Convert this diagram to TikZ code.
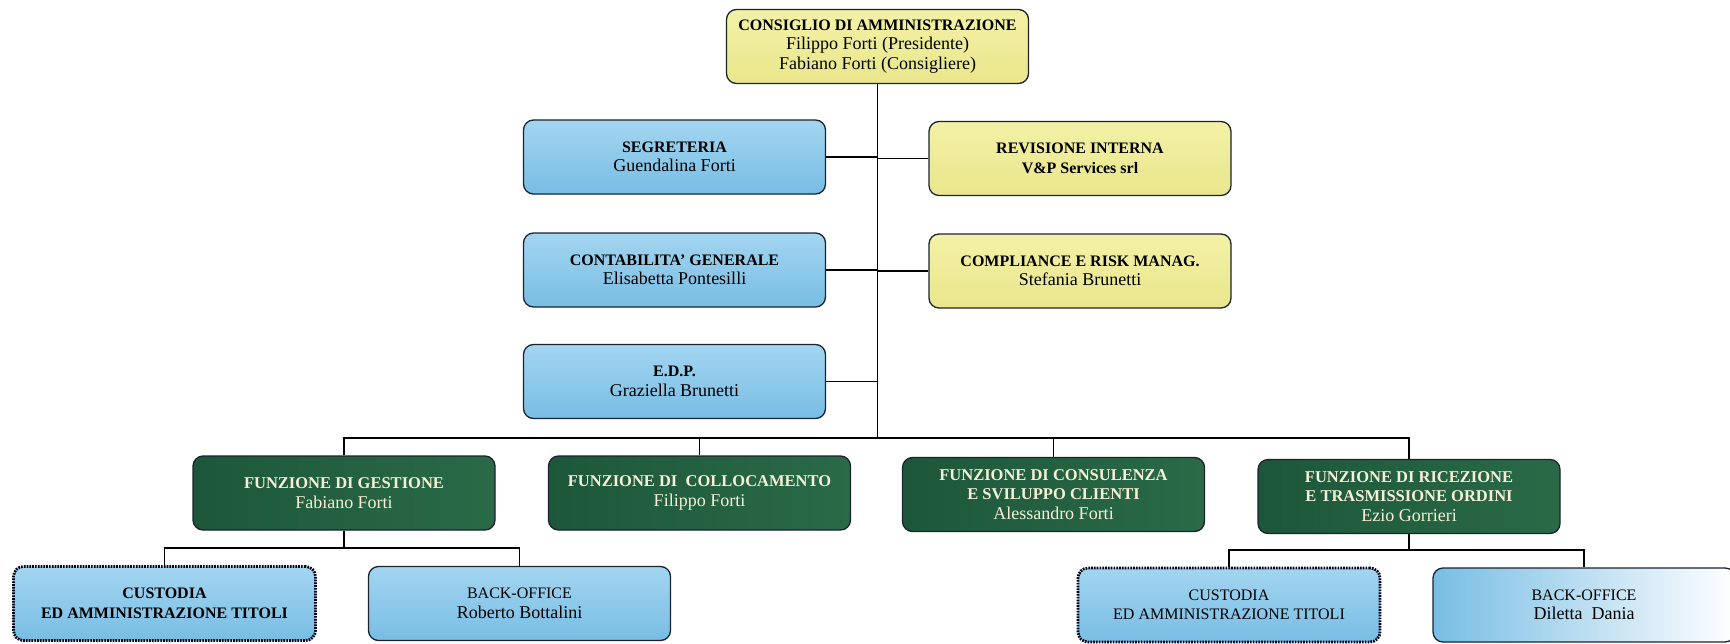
\documentclass[tikz,border=0pt]{standalone}
\usepackage{fontspec}
\setmainfont{Liberation Serif}
\definecolor{blueT}{HTML}{A3D5F0}
\definecolor{blueB}{HTML}{78BDE4}
\definecolor{yelT}{HTML}{F3F1A6}
\definecolor{yelB}{HTML}{E9E68C}
\definecolor{grnL}{HTML}{1D573B}
\definecolor{grnR}{HTML}{2A6A47}
\definecolor{grntext}{HTML}{F6F1D6}
\definecolor{edge}{HTML}{1C2230}
\newcommand\nm[1]{{\fontsize{18}{19.5}\selectfont #1}}
\begin{document}
\begin{tikzpicture}[x=1pt,y=-1pt,
  box/.style={draw=edge, line width=1.3pt, rounded corners=10pt,
    minimum width=302pt, minimum height=74pt, inner sep=2pt, align=center,
    font=\fontsize{16}{19.5}\selectfont},
  bluebox/.style={box, top color=blueT, bottom color=blueB},
  yelbox/.style={box, top color=yelT, bottom color=yelB},
  greenbox/.style={box, left color=grnL, right color=grnR, text=grntext,
    font=\fontsize{16.5}{19.5}\selectfont},
  dotbox/.style={bluebox, draw=black!90!blue, dash pattern=on 1.7pt off 1.1pt, line width=2.8pt},
  fadebox/.style={box, left color=blueB, right color=white},
  conn/.style={draw=black, line width=1.2pt}]
\useasboundingbox (0,0) rectangle (1730,643);
\fill[white] (0,0) rectangle (1730,643);

\node[yelbox] (cda) at (877.5,46.5) {\textbf{CONSIGLIO DI AMMINISTRAZIONE}\\ \nm{Filippo Forti (Presidente)}\\ \nm{Fabiano Forti (Consigliere)}};
\node[bluebox] (seg) at (674.5,157) {\textbf{SEGRETERIA}\\ \nm{Guendalina Forti}};
\node[yelbox] (rev) at (1080,158.5) {\textbf{REVISIONE INTERNA}\\ \textbf{V\&P Services srl}};
\node[bluebox] (cont) at (674.5,270) {\textbf{CONTABILITA' GENERALE}\\ \nm{Elisabetta Pontesilli}};
\node[yelbox] (comp) at (1080,271) {\textbf{COMPLIANCE E RISK MANAG.}\\ \nm{Stefania Brunetti}};
\node[bluebox] (edp) at (674.5,381.5) {\textbf{E.D.P.}\\ \nm{Graziella Brunetti}};

\node[greenbox] (gest) at (344,493) {\textbf{FUNZIONE DI GESTIONE}\\ \nm{Fabiano Forti}};
\node[greenbox] (coll) at (699.5,493) {\textbf{FUNZIONE DI\ \ COLLOCAMENTO}\\ \nm{Filippo Forti}};
\node[greenbox] (cons) at (1053.5,494.5) {\textbf{FUNZIONE DI CONSULENZA}\\ \textbf{E SVILUPPO CLIENTI}\\ \nm{Alessandro Forti}};
\node[greenbox] (ric) at (1409,496.5) {\textbf{FUNZIONE DI RICEZIONE}\\ \textbf{E TRASMISSIONE ORDINI}\\ \nm{Ezio Gorrieri}};

\node[dotbox] (custL) at (164.5,603.5) {\textbf{CUSTODIA}\\ \textbf{ED AMMINISTRAZIONE TITOLI}};
\node[bluebox] (boL) at (519.5,603.5) {BACK-OFFICE\\ \nm{Roberto Bottalini}};
\node[dotbox] (custR) at (1229,605) {CUSTODIA\\ ED AMMINISTRAZIONE TITOLI};
\node[fadebox] (boR) at (1584,605) {BACK-OFFICE\\ \nm{Diletta\ \ Dania}};

\coordinate (bus) at (0,438);
\coordinate (subL) at (0,548);
\coordinate (subR) at (0,550);

\draw[conn] (cda.south) -- (cda.south |- bus);
\draw[conn] (seg.east) -- (seg.east -| cda.south);
\draw[conn] (rev.west) -- (rev.west -| cda.south);
\draw[conn] (cont.east) -- (cont.east -| cda.south);
\draw[conn] (comp.west) -- (comp.west -| cda.south);
\draw[conn] (edp.east) -- (edp.east -| cda.south);

\draw[conn] (gest.north) -- (gest.north |- bus) -- (ric.north |- bus) -- (ric.north);
\draw[conn] (coll.north) -- (coll.north |- bus);
\draw[conn] (cons.north) -- (cons.north |- bus);

\draw[conn] (gest.south) -- (gest.south |- subL);
\draw[conn] (custL.north) -- (custL.north |- subL) -- (boL.north |- subL) -- (boL.north);
\draw[conn] (ric.south) -- (ric.south |- subR);
\draw[conn] (custR.north) -- (custR.north |- subR) -- (boR.north |- subR) -- (boR.north);
\end{tikzpicture}
\end{document}
